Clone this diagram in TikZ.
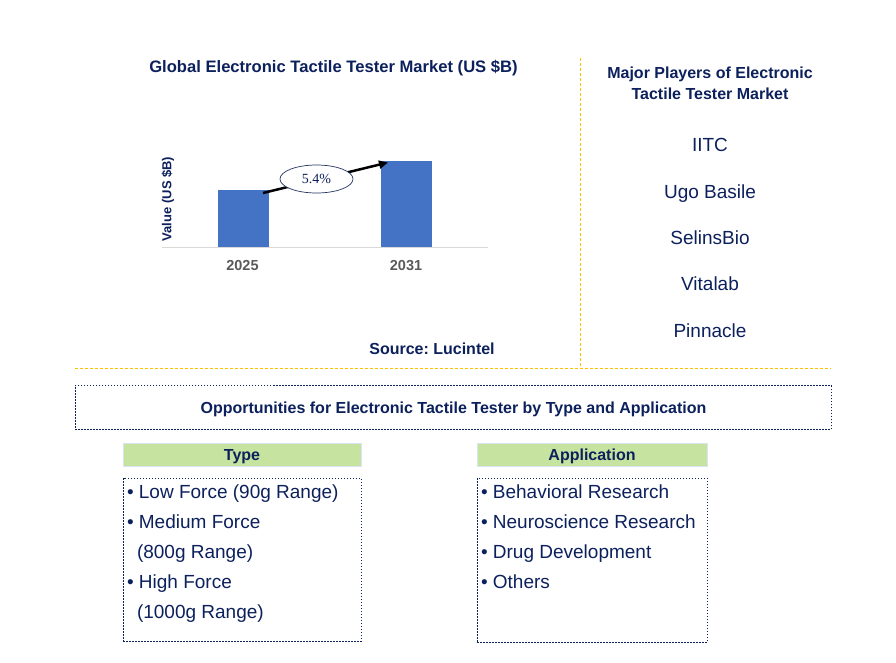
\documentclass[tikz,border=0pt]{standalone}
\usepackage{fontspec}
\setmainfont{Liberation Sans}
\newfontfamily\serifnum{Liberation Serif}
\usetikzlibrary{arrows.meta,shapes.geometric}
\definecolor{navy}{RGB}{12,32,92}
\definecolor{barblue}{RGB}{68,114,196}
\definecolor{gold}{RGB}{255,192,0}
\definecolor{hdrgreen}{RGB}{198,228,160}
\definecolor{hdrline}{RGB}{218,227,243}
\definecolor{axisgray}{RGB}{217,217,217}
\definecolor{yeargray}{RGB}{89,89,89}
\frenchspacing
\begin{document}
\begin{tikzpicture}[x=1pt,y=-1pt,
  txt/.style={inner sep=0pt,outer sep=0pt,text=navy,anchor=base},
  bold16/.style={txt,font=\fontsize{16}{19}\selectfont\bfseries},
  player/.style={txt,font=\fontsize{19}{22}\selectfont},
  item/.style={txt,anchor=base west,font=\fontsize{19}{22}\selectfont},
  bar/.style={fill=barblue,inner sep=0pt,outer sep=0pt,anchor=south west,minimum width=51pt},
  year/.style={inner sep=0pt,anchor=base,text=yeargray,font=\fontsize{14.5}{17}\selectfont\bfseries},
  golddash/.style={draw=gold,line width=1pt,dash pattern=on 3pt off 2pt},
  dotbox/.style={draw=navy,line width=1pt,dash pattern=on 1.5pt off 1.5pt,inner sep=0pt,outer sep=0pt},
  hdr/.style={fill=hdrgreen,draw=hdrline,line width=0.8pt,inner sep=0pt,minimum height=23pt,text height=11.5pt,text depth=0pt,text=navy,font=\fontsize{16}{19}\selectfont\bfseries}
]
\useasboundingbox (0,0) rectangle (896,662);

% chart title
\node[bold16,font=\fontsize{16.6}{19}\selectfont\bfseries] (ctitle) at (333.5,72.5) {Global Electronic Tactile Tester Market (US \$B)};

% chart
\coordinate (ax1) at (162,247.5);
\coordinate (ax2) at (488,247.5);
\draw[axisgray,line width=1pt] (ax1) -- (ax2);
\node[bar,minimum height=57pt] (b1) at (218,247) {};
\node[bar,minimum height=86pt] (b2) at (381,247) {};
\node[year] (y1) at (242.5,270) {2025};
\node[year] (y2) at (406,270) {2031};
\node[inner sep=0pt,rotate=90,text=navy,font=\fontsize{13}{15}\selectfont\bfseries] (ylab) at (168,199) {Value (US \$B)};
\coordinate (a1) at (263,193);
\coordinate (a2) at (388,162.5);
\draw[line width=2.5pt,-{Triangle[length=9pt,width=8pt]}] (a1) -- (a2);
\node[ellipse,draw=navy!80!gray,line width=0.7pt,fill=white,minimum width=73pt,minimum height=28pt,inner sep=0pt,text=navy,font=\serifnum\fontsize{14}{16}\selectfont] (cagr) at (316.5,179) {5.4\%};

\node[bold16] (src) at (432,354) {Source: Lucintel};

% dividers
\coordinate (v1) at (580.5,58);
\coordinate (v2) at (580.5,367);
\draw[golddash] (v1) -- (v2);
\coordinate (h1) at (75,368.5);
\coordinate (h2) at (831,368.5);
\draw[golddash] (h1) -- (h2);

% players
\node[bold16] (ptitle1) at (710,78) {Major Players of Electronic};
\node[bold16] (ptitle2) at (710,99) {Tactile Tester Market};
\node[player] (p1) at (710,151.5) {IITC};
\node[player] (p2) at (710,198.5) {Ugo Basile};
\node[player] (p3) at (710,244.5) {SelinsBio};
\node[player] (p4) at (710,290.5) {Vitalab};
\node[player] (p5) at (710,337.5) {Pinnacle};

% opportunities
\node[dotbox,minimum width=756pt,minimum height=43.5pt] (opp) at (453,407.5) {};
\node[bold16] (opptxt) at (453.5,413) {Opportunities for Electronic Tactile Tester by Type and Application};

% headers
\node[hdr,minimum width=238pt] (htype) at (242,454.5) {Type};
\node[hdr,minimum width=230pt] (happ) at (592,454.5) {Application};

% list boxes
\node[dotbox,minimum width=238pt,minimum height=163pt] (ltype) at (242,559.5) {};
\node[dotbox,minimum width=230pt,minimum height=164pt] (lapp) at (592,560) {};

\node[item] (t1) at (127,498.5) {• Low Force (90g Range)};
\node[item] (t2) at (127,528.5) {• Medium Force};
\node[item] (t3) at (137,558.5) {(800g Range)};
\node[item] (t4) at (127,588.5) {• High Force};
\node[item] (t5) at (137,618.5) {(1000g Range)};

\node[item] (ap1) at (481,498.5) {• Behavioral Research};
\node[item] (ap2) at (481,528.5) {• Neuroscience Research};
\node[item] (ap3) at (481,558.5) {• Drug Development};
\node[item] (ap4) at (481,588.5) {• Others};
\end{tikzpicture}
\end{document}
